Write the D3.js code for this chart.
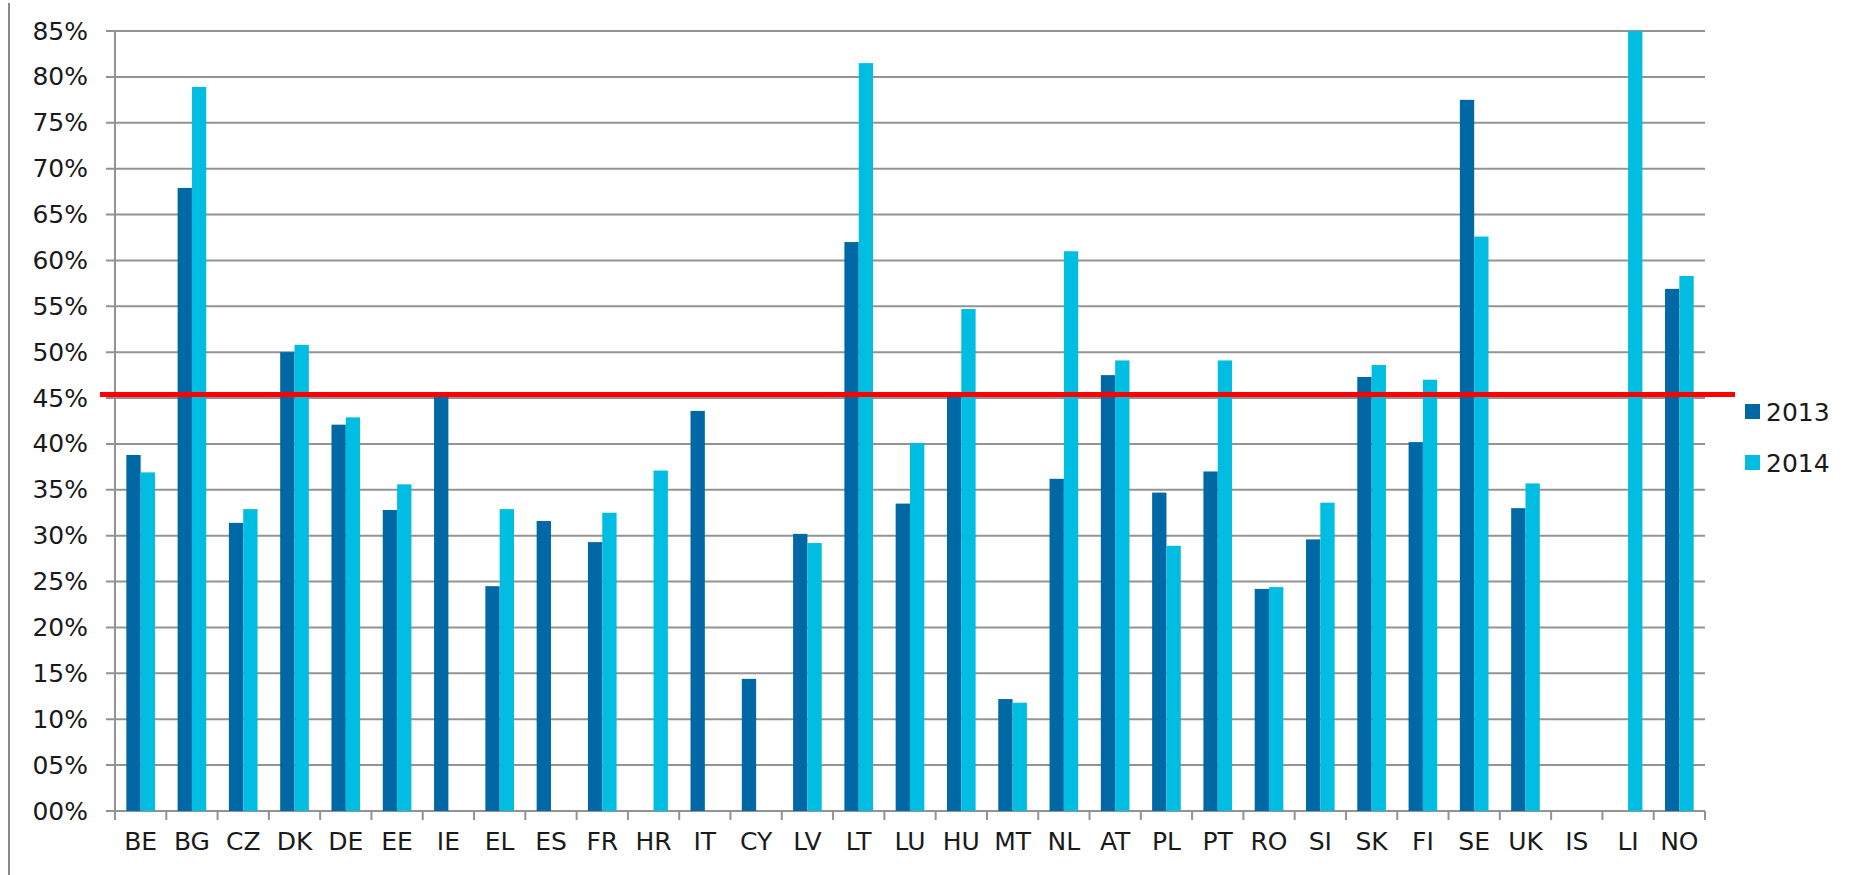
<!DOCTYPE html>
<html>
<head>
<meta charset="utf-8">
<script src="https://cdn.jsdelivr.net/npm/d3@7/dist/d3.min.js"></script>
<style>
  html, body { margin: 0; padding: 0; background: #fff; }
  svg text { font-family: "DejaVu Sans", "Liberation Sans", sans-serif; fill: #1a1a1a; }
</style>
</head>
<body>
<div id="chart"></div>
<script>
// country codes along the x axis
const countries = ["BE","BG","CZ","DK","DE","EE","IE","EL","ES","FR","HR","IT","CY","LV","LT","LU","HU","MT","NL","AT","PL","PT","RO","SI","SK","FI","SE","UK","IS","LI","NO"];
const years = ["2013", "2014"];
// values in %, null = no bar
const values2013 = [38.8,67.9,31.4,50.0,42.1,32.8,45.2,24.5,31.6,29.3,null,43.6,14.4,30.2,62.0,33.5,45.2,12.2,36.2,47.5,34.7,37.0,24.2,29.6,47.3,40.2,77.5,33.0,null,null,56.9];
const values2014 = [36.9,78.9,32.9,50.8,42.9,35.6,null,32.9,null,32.5,37.1,null,null,29.2,81.5,40.1,54.7,11.8,61.0,49.1,28.9,49.1,24.4,33.6,48.6,47.0,62.6,35.7,null,85.0,58.3];
const yTicks = [0,5,10,15,20,25,30,35,40,45,50,55,60,65,70,75,80,85];
const threshold = 45.4; // red reference line

const colors = { "2013": "#0069a5", "2014": "#00bde1" };

const width = 1855, height = 875;
const plot = { left: 115, right: 1705, top: 31, bottom: 811 };

const svg = d3.select("#chart").append("svg")
  .attr("width", width)
  .attr("height", height);

// thin frame line at far left
svg.append("line")
  .attr("x1", 9).attr("x2", 9)
  .attr("y1", 3).attr("y2", height)
  .attr("stroke", "#8a8a8a").attr("stroke-width", 2);

const x = d3.scaleBand().domain(countries).range([plot.left, plot.right]).padding(0);
const x1 = d3.scaleBand().domain(years).range([0, x.bandwidth()]).paddingInner(0).paddingOuter(0.79);
const y = d3.scaleLinear().domain([0, 85]).range([plot.bottom, plot.top]);

// gridlines (stick out left of the axis like tick marks)
svg.append("g")
  .selectAll("line")
  .data(yTicks)
  .join("line")
  .attr("x1", plot.left - 9)
  .attr("x2", plot.right)
  .attr("y1", d => y(d))
  .attr("y2", d => y(d))
  .attr("stroke", "#939393")
  .attr("stroke-width", 2);

// y axis line
svg.append("line")
  .attr("x1", plot.left).attr("x2", plot.left)
  .attr("y1", plot.top).attr("y2", plot.bottom)
  .attr("stroke", "#939393").attr("stroke-width", 2);

// y labels
const yAxis = d3.axisLeft(y)
  .tickValues(yTicks)
  .tickSize(0)
  .tickPadding(27)
  .tickFormat(d => d3.format("02d")(d) + "%");

svg.append("g")
  .attr("transform", `translate(${plot.left},0)`)
  .call(yAxis)
  .call(g => g.select(".domain").remove())
  .selectAll("text")
  .attr("font-size", 25)
  .attr("font-family", "DejaVu Sans");

// x axis: boundary ticks between categories
const bounds = countries.map(c => x(c)).concat([plot.right]);
svg.append("g")
  .selectAll("line")
  .data(bounds)
  .join("line")
  .attr("x1", d => d).attr("x2", d => d)
  .attr("y1", plot.bottom).attr("y2", plot.bottom + 9)
  .attr("stroke", "#939393").attr("stroke-width", 2);

svg.append("g")
  .selectAll("text")
  .data(countries)
  .join("text")
  .attr("x", d => x(d) + x.bandwidth() / 2)
  .attr("y", 841)
  .attr("dy", "0.36em")
  .attr("text-anchor", "middle")
  .attr("font-size", 25)
  .text(d => d);

// bars
const rows = countries.map((c, i) => ({ country: c, vals: [
  { year: "2013", v: values2013[i] },
  { year: "2014", v: values2014[i] }
].filter(d => d.v != null) }));

const groups = svg.append("g")
  .selectAll("g")
  .data(rows)
  .join("g")
  .attr("transform", d => `translate(${x(d.country)},0)`);

groups.selectAll("rect")
  .data(d => d.vals)
  .join("rect")
  .attr("x", d => x1(d.year))
  .attr("y", d => y(d.v))
  .attr("width", x1.bandwidth())
  .attr("height", d => y(0) - y(d.v))
  .attr("fill", d => colors[d.year]);

// red reference line
svg.append("line")
  .attr("x1", 100).attr("x2", 1735)
  .attr("y1", y(threshold)).attr("y2", y(threshold))
  .attr("stroke", "#ff0000").attr("stroke-width", 5);

// legend
const legend = svg.append("g")
  .selectAll("g")
  .data(years)
  .join("g")
  .attr("transform", (d, i) => `translate(1745,${412 + i * 51})`);

legend.append("rect")
  .attr("x", 0).attr("y", -8)
  .attr("width", 15).attr("height", 15)
  .attr("fill", d => colors[d]);

legend.append("text")
  .attr("x", 21)
  .attr("y", 0)
  .attr("dy", "0.36em")
  .attr("font-size", 25)
  .text(d => d);
</script>
</body>
</html>
